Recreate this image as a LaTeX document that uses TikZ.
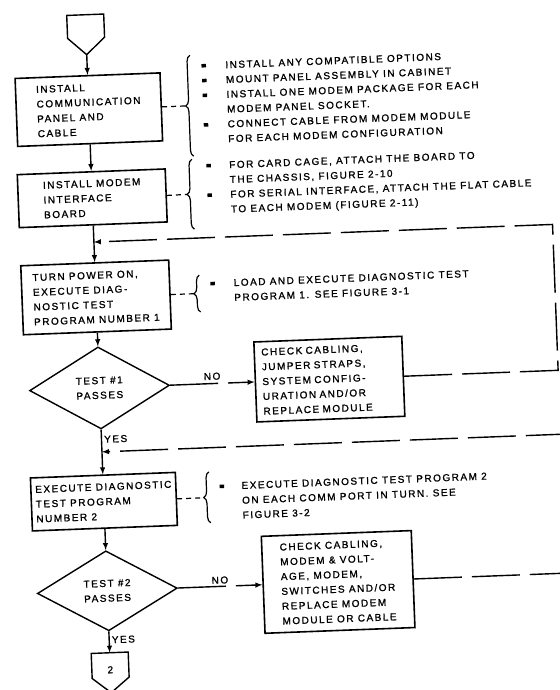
\documentclass[tikz,border=0pt]{standalone}
\usepackage{fontspec}
\setmainfont[LetterSpace=15,FakeBold=1.2]{Liberation Sans}
\usetikzlibrary{shapes.geometric,decorations.pathreplacing}
\begin{document}
\begin{tikzpicture}[x=1pt,y=-1pt,>=latex,
		every node/.style={font=\fontsize{10}{14.8}\selectfont},
		blk/.style={draw,line width=1.6pt,align=left,inner sep=0pt},
		dia/.style={draw,diamond,line width=1.4pt,align=center,inner sep=0pt},
		note/.style={anchor=north west,align=left,inner sep=0pt},
		dot/.style={fill,inner sep=0pt,minimum width=4.5pt,minimum height=3.5pt},
		lbl/.style={inner sep=2pt},
		flow/.style={line width=1.4pt},
		back/.style={line width=1.4pt,dash pattern=on 48pt off 10pt},
		tie/.style={line width=1.2pt,dash pattern=on 5pt off 4pt},
		brc/.style={line width=1.2pt,decorate,decoration={brace,amplitude=6pt}}]
		\useasboundingbox (0,0) rectangle (559,690);
		\fill [white] (0,0) rectangle (559,690);
		\begin{scope}[rotate around={2.2:(280,345)},transform shape]
		\draw [flow] (79.5,7.5) -- (116.5,7.5) -- (116.5,30.5) -- (98,47.5) -- (79.5,30.5) -- cycle;
		\coordinate (s1) at (98,47.5);
		\node [blk,minimum width=145pt,minimum height=68pt] at (98,102.5) (b1) {INSTALL\\COMMUNICATION\\PANEL AND\\CABLE} edge [flow,<-] (s1);
		\node [blk,minimum width=148pt,minimum height=53pt] at (98,191.2) (b2) {INSTALL MODEM\\INTERFACE\\BOARD} edge [flow,<-] (b1);
		\coordinate (j1) at (98,235);
		\node [blk,minimum width=148pt,minimum height=69pt] at (98,290.4) (b3) {TURN POWER ON,\\EXECUTE DIAG-\\NOSTIC TEST\\PROGRAM NUMBER 1} edge [flow,<-] (b2);
		\node [dia,minimum width=140pt,minimum height=82pt] at (98,381) (d1) {TEST \#1\\PASSES} edge [flow,<-] (b3);
		\node [blk,text width=134pt,minimum width=148pt,minimum height=80pt] at (328,381) (k1) {CHECK CABLING,\\JUMPER STRAPS,\\SYSTEM CONFIG-\\URATION AND/OR\\REPLACE MODULE};
		\draw [back,->] (d1) -- node [lbl,above=1pt] {NO} (k1);
		\coordinate (r1) at (557,235);
		\draw [back,->] (k1.east) -| (r1) -- (j1);
		\coordinate (j2) at (98,445);
		\node [blk,minimum width=145pt,minimum height=53pt] at (98,494.8) (b4) {EXECUTE DIAGNOSTIC\\TEST PROGRAM\\NUMBER 2} edge [flow,<-] node [lbl,right,pos=0.78] {YES} (d1);
		\node [dia,minimum width=140pt,minimum height=80pt] at (98,584) (d2) {TEST \#2\\PASSES} edge [flow,<-] (b4);
		\node [blk,minimum width=150pt,minimum height=97pt] at (329,584) (k2) {CHECK CABLING,\\MODEM \& VOLT-\\AGE, MODEM,\\SWITCHES AND/OR\\REPLACE MODEM\\MODULE OR CABLE};
		\draw [back,->] (d2) -- node [lbl,above] {NO} (k2);
		\coordinate (r2) at (563,445);
		\draw [back,->] (k2.east) -| (r2) -- (j2);
		\draw [flow] (79.5,646) -- (116.5,646) -- (116.5,671) -- (98,686) -- (79.5,671) -- cycle;
		\node at (98,663) (n2) {2};
		\coordinate (s2) at (98,646);
		\draw [flow,->] (d2) -- node [lbl,right,pos=0.4] {YES} (s2);
		\draw [brc] (201,153) -- (201,52);
		\coordinate (t1) at (195,102.5);
		\draw [tie] (b1.east) -- (t1);
		\node [dot] at (214.5,63) (m1) {};
		\node [dot] at (214.5,77.8) (m2) {};
		\node [dot] at (214.5,92.6) (m3) {};
		\node [dot] at (214.5,122.2) (m4) {};
		\node [note] at (236,59.2) (a1) {INSTALL ANY COMPATIBLE OPTIONS\\MOUNT PANEL ASSEMBLY IN CABINET\\INSTALL ONE MODEM PACKAGE FOR EACH\\MODEM PANEL SOCKET.\\CONNECT CABLE FROM MODEM MODULE\\FOR EACH MODEM CONFIGURATION};
		\draw [brc] (199,226) -- (199,156);
		\coordinate (t2) at (193,191);
		\draw [tie] (b2.east) -- (t2);
		\node [dot] at (215.5,163) (m5) {};
		\node [dot] at (215.5,192.6) (m6) {};
		\node [note] at (236,159.2) (a2) {FOR CARD CAGE, ATTACH THE BOARD TO\\THE CHASSIS, FIGURE 2-10\\FOR SERIAL INTERFACE, ATTACH THE FLAT CABLE\\TO EACH MODEM (FIGURE 2-11)};
		\draw [brc] (202,309) -- (202,272);
		\coordinate (t3) at (196,290.5);
		\draw [tie] (b3.east) -- (t3);
		\node [dot] at (215,281) (m7) {};
		\node [note] at (236,277.2) (a3) {LOAD AND EXECUTE DIAGNOSTIC TEST\\PROGRAM 1. SEE FIGURE 3-1};
		\draw [brc] (204,520) -- (204,469);
		\coordinate (t4) at (198,494.8);
		\draw [tie] (b4.east) -- (t4);
		\node [dot] at (216.5,484) (m8) {};
		\node [note] at (236,480.2) (a4) {EXECUTE DIAGNOSTIC TEST PROGRAM 2\\ON EACH COMM PORT IN TURN. SEE\\FIGURE 3-2};
		\end{scope}
\end{tikzpicture}
\end{document}
